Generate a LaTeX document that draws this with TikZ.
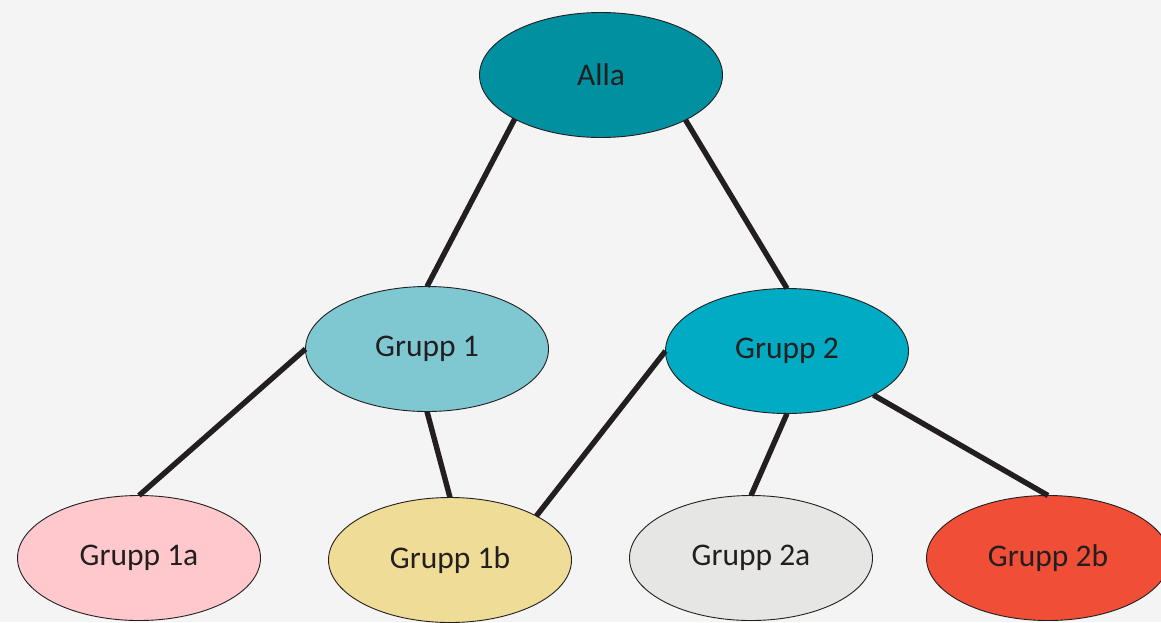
\documentclass[tikz,border=0pt]{standalone}
\usepackage{fontspec}
\setmainfont{Carlito}
\usetikzlibrary{shapes.geometric}
\definecolor{bg}{HTML}{F4F4F4}
\definecolor{ink}{HTML}{231F20}
\definecolor{cAlla}{HTML}{0090A0}
\definecolor{cG1}{HTML}{7FC8D2}
\definecolor{cG2}{HTML}{00ABC3}
\definecolor{cG1a}{HTML}{FFC8CD}
\definecolor{cG1b}{HTML}{EEDC97}
\definecolor{cG2a}{HTML}{E6E6E4}
\definecolor{cG2b}{HTML}{F04E37}
\begin{document}
\begin{tikzpicture}[x=1pt,y=-1pt,
  group/.style={ellipse, draw=ink, line width=0.9pt, inner sep=0pt, outer sep=0pt,
    minimum width=243pt, minimum height=125pt, text=ink,
    font=\fontsize{31.5}{38}\selectfont},
  link/.style={draw=ink, line width=5.4pt}]
  \useasboundingbox (0,0) rectangle (1161,622);
  \clip (0,0) rectangle (1161,622);
  \fill[bg] (0,0) rectangle (1161,622);

  % tree of groups
  \node[group, fill=cAlla] (alla) at (601,75) {Alla};
  \node[group, fill=cG1]   (g1)   at (427,349) {Grupp 1};
  \node[group, fill=cG2]   (g2)   at (787,351) {Grupp 2};
  \node[group, fill=cG1a]  (g1a)  at (139,558) {Grupp 1a};
  \node[group, fill=cG1b]  (g1b)  at (450,560) {Grupp 1b};
  \node[group, fill=cG2a]  (g2a)  at (751,558) {Grupp 2a};
  \node[group, fill=cG2b]  (g2b)  at (1048,558) {Grupp 2b};

  % connectors
  \draw[link] (alla.207.6) -- (g1.north);
  \draw[link] (alla.332.4) -- (g2.north);
  \draw[link] (g1.west) -- (g1a.north);
  \draw[link] (g1.south) -- (g1b.north);
  \draw[link] (g2.west) -- (g1b.27);
  \draw[link] (g2.south) -- (g2a.north);
  \draw[link] (g2.333) -- (g2b.north);
\end{tikzpicture}
\end{document}
